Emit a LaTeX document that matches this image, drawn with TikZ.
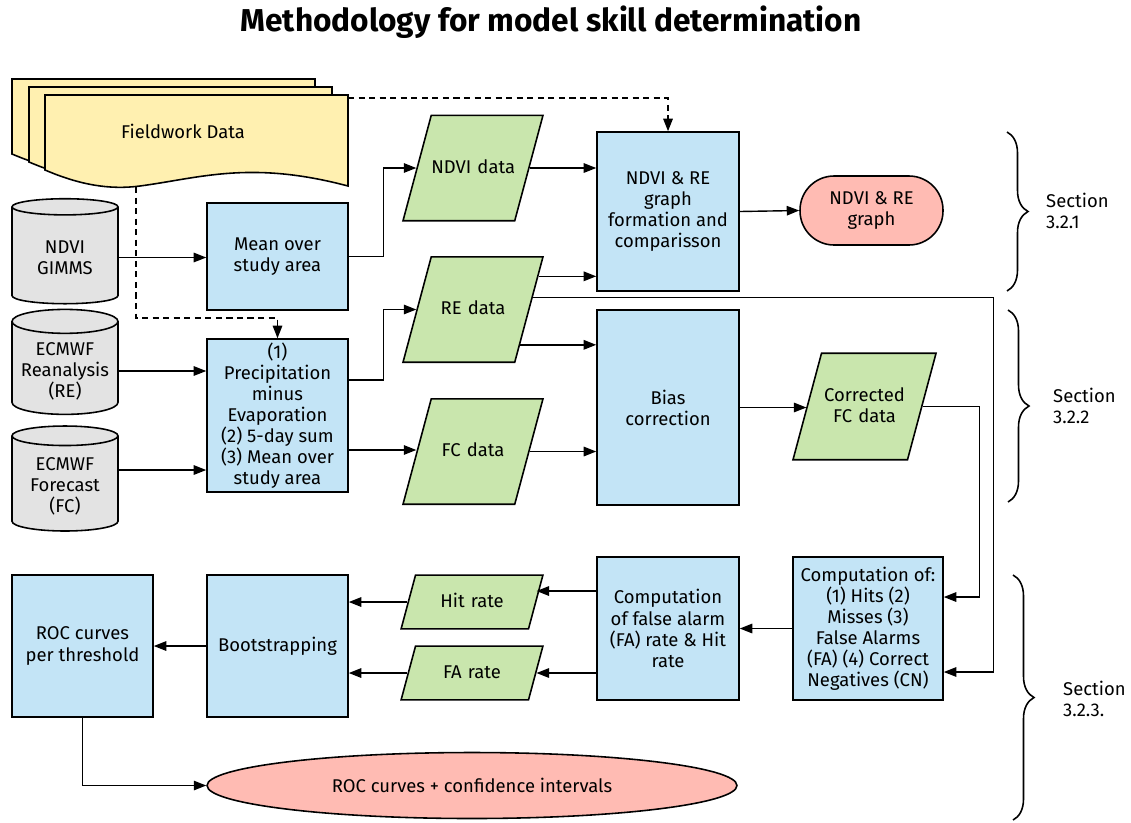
\documentclass[tikz,border=0pt]{standalone}
\usepackage{fontspec}
\setmainfont{Fira Sans}
\usetikzlibrary{arrows.meta,positioning,calc,shapes.geometric,decorations.pathreplacing}
\definecolor{procblue}{HTML}{C3E4F6}
\definecolor{datagreen}{HTML}{C9E6AD}
\definecolor{outred}{HTML}{FFBBB3}
\definecolor{docyellow}{HTML}{FFF0B0}
\definecolor{dbgray}{HTML}{E3E3E3}

\begin{document}
\begin{tikzpicture}[x=0.02cm, y=-0.02cm,
  font=\fontsize{10.5}{12}\selectfont,
  proc/.style={draw, line width=0.9pt, fill=procblue, align=center, inner sep=1pt},
  datapar/.style={trapezium, trapezium left angle=75, trapezium right angle=105,
    draw, line width=0.9pt, fill=datagreen, align=center, text width=1.67cm,
    text height=8pt, text depth=2pt, inner xsep=0pt, inner ysep=25pt},
  smallpar/.style={datapar, inner xsep=0.295cm, inner ysep=10.3pt},
  dbcyl/.style={cylinder, shape border rotate=90, aspect=0.24, draw, line width=0.9pt,
    fill=dbgray, align=center, minimum width=2.12cm, minimum height=2.1cm},
  result/.style={draw, line width=0.9pt, fill=outred, align=center},
  arr/.style={-{Triangle[length=0.25cm,width=0.19cm]}, line width=0.8pt},
  dasharr/.style={arr, dash pattern=on 3.5pt off 2.5pt},
  secbrace/.style={decorate, decoration={brace, amplitude=0.42cm}, line width=0.9pt}
]
\useasboundingbox (0,0) rectangle (1131,822);

\node (title) at (551,22) {\fontsize{18}{21}\selectfont\bfseries Methodology for model skill determination};

% Fieldwork documents
\foreach \dx/\dy in {-33/-16, -16/-8, 0/0} {
  \draw[line width=0.9pt, fill=docyellow, shift={(\dx,\dy)}]
    (45,95) -- (348,95) -- (348,186)
    .. controls (250,160) and (200,178) .. (140,186)
    .. controls (110,190) and (80,185) .. (45,170) -- cycle;
}
\node (fieldwork) at (183,131) {Fieldwork Data};
\coordinate (fwright) at (348,98);
\coordinate (fwbottom) at (136,187);

% Input data
\node[dbcyl] (gimms) at (65,257.5) {NDVI\\GIMMS};
\node[dbcyl] (ecre) at (65,371) {ECMWF\\Reanalysis\\(RE)};
\node[dbcyl] (ecfc) at (65,486) {ECMWF\\Forecast\\(FC)};

% Processing
\node[proc, minimum width=2.82cm, minimum height=2.14cm] (meanbox) at (277.5,256.5) {Mean over\\study area};
\node[proc, minimum width=2.82cm, minimum height=3.06cm] (pmebox) at (277.5,415.5) {(1)\\Precipitation\\minus\\Evaporation\\(2) 5-day sum\\(3) Mean over\\study area};
\node[datapar] (ndvidata) at (473,168) {NDVI~data};
\node[datapar] (redata) at (473,309.5) {RE data};
\node[datapar] (fcdata) at (473,451.5) {FC data};
\node[proc, minimum width=2.84cm, minimum height=3.18cm] (graphbox) at (668,211.5) {NDVI \& RE\\graph\\formation and\\comparisson};
\node[proc, minimum width=2.84cm, minimum height=3.9cm] (biasbox) at (668,407.5) {Bias\\correction};
\node[result, rounded corners=0.68cm, minimum width=2.86cm, minimum height=1.38cm] (graphout) at (871.5,210.5) {NDVI \& RE\\graph};
\node[datapar, text depth=14pt, inner xsep=0.025cm, inner ysep=19.3pt] (fccorr) at (864.5,406.5) {Corrected\\FC data};

% Skill scores
\node[proc, minimum width=3cm, minimum height=2.86cm] (countbox) at (868,628.5) {Computation of:\\(1) Hits (2)\\Misses (3)\\False Alarms\\(FA) (4) Correct\\Negatives (CN)};
\node[proc, minimum width=2.84cm, minimum height=2.86cm] (ratebox) at (668,628.5) {Computation\\of false alarm\\(FA) rate \& Hit\\rate};
\node[smallpar] (hitrate) at (472,602) {Hit rate};
\node[smallpar] (farate) at (472,673) {FA rate};
\node[proc, minimum width=2.82cm, minimum height=2.84cm] (bootbox) at (277.5,646) {Bootstrapping};
\node[proc, minimum width=2.82cm, minimum height=2.84cm] (rocbox) at (82.5,646) {ROC curves\\per threshold};
\node[result, ellipse, minimum width=10.6cm, minimum height=1.32cm] (rocout) at (472,785.5) {ROC curves + confidence intervals};

% Sections
\draw[secbrace] (1007,132) -- (1007,291);
\draw[secbrace] (1008,310) -- (1008,502);
\draw[secbrace] (1013,575) -- (1013,820);
\node[anchor=west, align=left] (sec1) at (1040,211) {Section\\3.2.1};
\node[anchor=west, align=left] (sec2) at (1047,406) {Section\\3.2.2};
\node[anchor=west, align=left] (sec3) at (1057,699) {Section\\3.2.3.};

% Connectors
\coordinate (reup) at ($(redata.top right corner)!0.19!(redata.bottom right corner)$);
\coordinate (remid) at ($(redata.top right corner)!0.39!(redata.bottom right corner)$);
\coordinate (relow) at ($(redata.top right corner)!0.83!(redata.bottom right corner)$);
\coordinate (pmeup) at ([yshift=0.71cm]pmebox.east);
\coordinate (pmelow) at ([yshift=-0.69cm]pmebox.east);
\coordinate (fcout) at ([yshift=0.32cm]ecfc.east);
\coordinate (rateup) at ([yshift=0.75cm]ratebox.west);
\coordinate (ratelow) at ([yshift=-0.89cm]ratebox.west);

\draw[dasharr] (fwright) -| (graphbox.north);
\draw[dasharr] (fwbottom) -- ++(0,131) -| (pmebox.north);

\draw[arr] (gimms.east) -- (gimms.east -| meanbox.west);
\draw[arr] (meanbox.east) -- ++(35,0) |- (ndvidata.west);
\draw[arr] (ndvidata.east) -- (ndvidata.east -| graphbox.west);
\draw[arr] (reup) -- (reup -| graphbox.west);
\draw[arr] (graphbox.east) -- (graphout.west);
\draw[arr] (ecre.east) -- (ecre.east -| pmebox.west);
\draw[arr] (fcout) -- (fcout -| pmebox.west);
\draw[arr] (pmeup) -- ++(35,0) |- (redata.west);
\draw[arr] (pmelow) -- (pmelow -| fcdata.west);
\draw[arr] (relow) -- (relow -| biasbox.west);
\draw[arr] (fcdata.east) -- (fcdata.east -| biasbox.west);
\draw[arr] (biasbox.east) -- (biasbox.east -| fccorr.west);
\draw[arr] (fccorr.east) -- ++(57,0) |- ([yshift=0.63cm]countbox.east);
\draw[arr] (remid) -- ++(460.5,0) |- ([yshift=-0.87cm]countbox.east);
\draw[arr] (countbox.west) -- (ratebox.east);
\draw[arr] (rateup) -- (rateup -| hitrate.east);
\draw[arr] (ratelow) -- (ratelow -| farate.east);
\draw[arr] (hitrate.west) -- (hitrate.west -| bootbox.east);
\draw[arr] (farate.west) -- (farate.west -| bootbox.east);
\draw[arr] (bootbox.west) -- (rocbox.east);
\draw[arr] (rocbox.south) |- (rocout.west);
\end{tikzpicture}
\end{document}
